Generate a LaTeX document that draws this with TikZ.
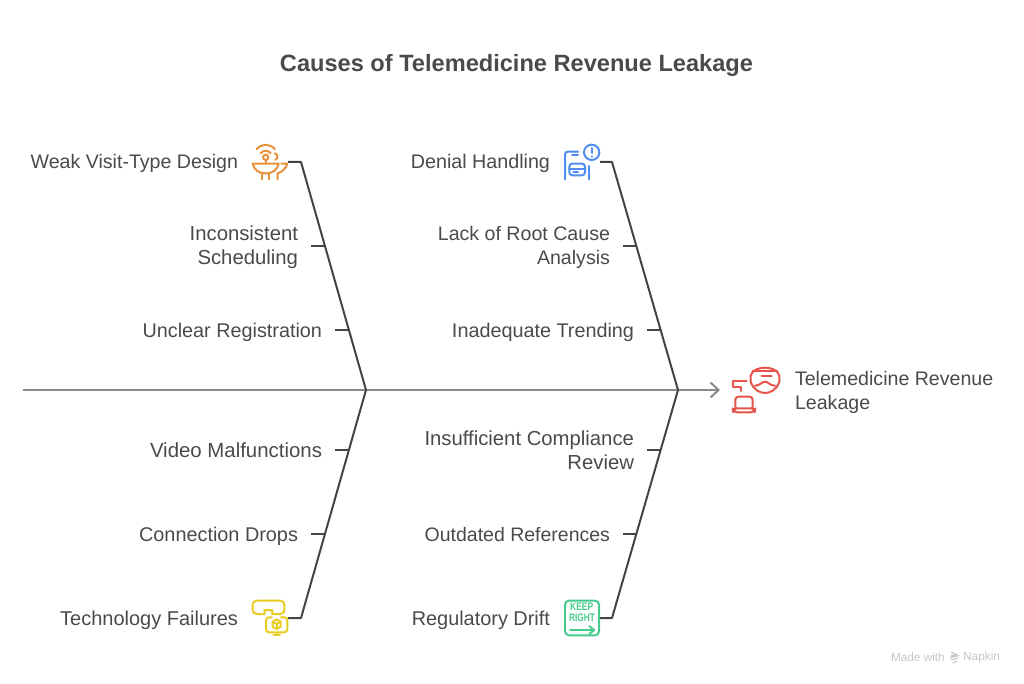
\documentclass[tikz,border=0pt]{standalone}
\usepackage{fontspec}
\setmainfont{Liberation Sans}
\usetikzlibrary{arrows.meta}
\definecolor{txt}{HTML}{4A4A4A}
\definecolor{bone}{HTML}{444444}
\definecolor{axisc}{HTML}{8A8A8A}
\definecolor{corange}{HTML}{E8913A}
\definecolor{cblue}{HTML}{4F8EF0}
\definecolor{cyellow}{HTML}{E8CC1F}
\definecolor{cgreen}{HTML}{45CC8C}
\definecolor{cred}{HTML}{E5534B}
\newcommand\lst{\rule[-5pt]{0pt}{24pt}}
\tikzset{
  x=1pt,y=-1pt,
  fs/.style={font=\fontsize{#1}{24}\selectfont},
  lab/.style={text=txt,fs=19.6,inner sep=0pt,outer sep=0pt},
  labr/.style={lab,anchor=east,align=right,inner xsep=13pt},
  bonel/.style={draw=bone,line width=2pt,line join=round},
  axisl/.style={draw=axisc,line width=1.6pt,-{Straight Barb[length=8pt,width=15pt,line width=2pt]}},
  ico/.style={line width=2pt,line cap=round,line join=round},
  zoomed/.style={shift={#1},x=0.3333pt,y=-0.3333pt},
  signt/.style={text=cgreen,font=\fontsize{11}{11}\selectfont\bfseries,inner sep=0pt},
}
\begin{document}
\begin{tikzpicture}
\useasboundingbox (0,0) rectangle (1024,684);
\node[text=txt,font=\fontsize{23.6}{28}\selectfont\bfseries] (title) at (516.5,65.5) {Causes of Telemedicine Revenue Leakage};

% joints
\coordinate (j1) at (366,390);
\coordinate (j2) at (678,390);
\coordinate (axisL) at (23,390);
\coordinate (axisR) at (720,390);
\draw[axisl] (axisL) -- (axisR);

% stubs
\coordinate (s1) at (288,162); \coordinate (k1) at (301,162);
\coordinate (s2) at (600,162); \coordinate (k2) at (612,162);
\coordinate (s3) at (288,618); \coordinate (k3) at (301,618);
\coordinate (s4) at (600,618); \coordinate (k4) at (612,618);
\draw[bonel] (s1) -- (k1) -- (j1);
\draw[bonel] (s2) -- (k2) -- (j2);
\draw[bonel] (s3) -- (k3) -- (j1);
\draw[bonel] (s4) -- (k4) -- (j2);

% labels
\node[lab,anchor=east] (a1) at (238,162) {\lst Weak Visit-Type Design};
\node[labr,fs=20.3] (a2) at (311,246) {\lst Inconsistent\\\lst Scheduling};
\node[labr,fs=19.8] (a3) at (335,330) {\lst Unclear Registration};
\node[lab,anchor=east,fs=19.7] (b1) at (550,162) {\lst Denial Handling};
\node[labr] (b2) at (623,246) {\lst Lack of Root Cause\\\lst Analysis};
\node[labr,fs=19.8] (b3) at (647,330) {\lst Inadequate Trending};
\node[labr,fs=20.4] (c1) at (335,450) {\lst Video Malfunctions};
\node[labr,fs=19.85] (c2) at (311,534) {\lst Connection Drops};
\node[lab,anchor=east,fs=20] (c3) at (238,618) {\lst Technology Failures};
\node[labr,fs=20.3] (d1) at (647,450) {\lst Insufficient Compliance\\\lst Review};
\node[labr,fs=19.5] (d2) at (623,534) {\lst Outdated References};
\node[lab,anchor=east,fs=19.9] (d3) at (550,618) {\lst Regulatory Drift};
\node[lab,anchor=west,align=left] (eff) at (795,390) {\lst Telemedicine Revenue\\\lst Leakage};

% ticks
\coordinate (ta2) at (325,246); \coordinate (ta3) at (349,330);
\coordinate (tb2) at (636,246); \coordinate (tb3) at (660,330);
\coordinate (tc1) at (349,450); \coordinate (tc2) at (325,534);
\coordinate (td1) at (660,450); \coordinate (td2) at (636,534);
\draw[bonel] (a2.east) -- (ta2);
\draw[bonel] (a3.east) -- (ta3);
\draw[bonel] (b2.east) -- (tb2);
\draw[bonel] (b3.east) -- (tb3);
\draw[bonel] (c1.east) -- (tc1);
\draw[bonel] (c2.east) -- (tc2);
\draw[bonel] (d1.east) -- (td1);
\draw[bonel] (d2.east) -- (td2);

% orange icon
\begin{scope}[zoomed={(240,130)},ico,draw=corange]
\draw (50,58) .. controls (62,40) and (92,40) .. (105,58);
\draw (62,70) .. controls (68,60) and (86,60) .. (92,70);
\draw (77,82) circle (8);
\draw (77,90) -- (77,100);
\draw (104,70) .. controls (114,72) and (116,84) .. (106,90);
\draw (38,101) -- (116,101) .. controls (112,118) and (100,130) .. (77,130) .. controls (54,130) and (42,118) .. (38,101);
\draw (65,130) -- (65,148);
\draw (88,130) -- (88,148);
\draw (124,101) -- (142,101) .. controls (138,115) and (128,125) .. (113,130) -- (113,148);
\end{scope}

% blue icon
\begin{scope}[zoomed={(550,130)},ico,draw=cblue]
\draw (45,148) -- (45,74) .. controls (45,68) and (48,65) .. (54,65) -- (85,65);
\draw (66,76) -- (84,76);
\draw[rounded corners=3pt] (58,101) rectangle (105,136);
\draw (58,118) -- (105,118);
\draw (70,127) -- (84,127);
\draw (118,108) -- (118,148);
\draw (125,67) circle (23);
\draw (125,54) -- (125,69);
\draw (125,79) -- (125,80);
\end{scope}

% yellow icon
\begin{scope}[zoomed={(240,590)},ico,draw=cyellow]
\draw[rounded corners=4pt] (38,32) -- (133,32) -- (133,72) -- (108,72) .. controls (100,72) and (95,60) .. (85,60) .. controls (76,60) and (72,72) .. (62,72) -- (38,72) -- cycle;
\draw[rounded corners=3pt] (95,82) -- (78,82) -- (78,127) -- (142,127) -- (142,82) -- (122,82);
\draw (110,88) -- (122,95) -- (122,110) -- (110,117) -- (98,110) -- (98,95) -- cycle;
\draw (98,95) -- (110,102) -- (122,95);
\draw (110,102) -- (110,117);
\draw (110,127) -- (110,136);
\draw (100,136) -- (120,136);
\end{scope}

% green icon
\begin{scope}[zoomed={(550,590)},ico,draw=cgreen]
\draw[rounded corners=4pt] (45,32) rectangle (147,136);
\draw (60,120) -- (132,120);
\draw (118,108) -- (132,120) -- (118,132);
\end{scope}
\node[signt,xscale=.77] (keep) at (581.7,607) {KEEP};
\node[signt,xscale=.75] (right) at (582,617.8) {RIGHT};

% red icon
\begin{scope}[zoomed={(700,355)},ico,draw=cred]
\draw (152,62) .. controls (160,30) and (230,30) .. (238,62) -- (238,80) .. controls (230,105) and (210,114) .. (195,114) .. controls (180,114) and (160,105) .. (152,80) -- cycle;
\draw (158,48) -- (232,48);
\draw (185,63) -- (215,63);
\draw (165,92) .. controls (180,92) and (186,80) .. (195,80) .. controls (204,80) and (210,92) .. (225,92);
\draw (140,78) -- (98,78) -- (98,95) -- (122,95) -- (122,108);
\draw[rounded corners=3pt] (106,160) -- (106,125) -- (158,125) -- (158,160);
\draw[rounded corners=4pt] (98,160) -- (166,160) -- (164,172) -- (100,172) -- cycle;
\end{scope}

% footer
\node[text=black!22,font=\fontsize{11.8}{13}\selectfont,anchor=east,inner sep=0pt] (made) at (945,657) {Made with};
\node[text=black!22,font=\fontsize{11.8}{13}\selectfont,anchor=west,inner sep=0pt] (nap) at (963,657) {Napkin};
\draw[black!22,line width=1.2pt] (951,652) -- (956,654.5) -- (951,656) (950,657.5) -- (959,655.5) (951,660) -- (958,658) (953,663) -- (957,661);
\end{tikzpicture}
\end{document}
